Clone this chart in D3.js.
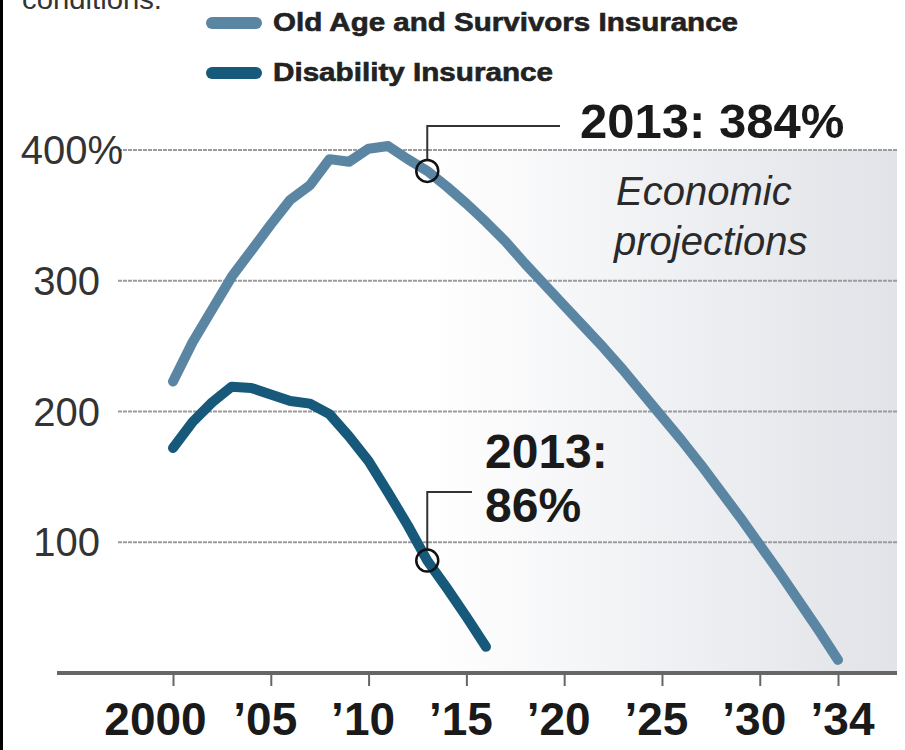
<!DOCTYPE html>
<html>
<head>
<meta charset="utf-8">
<script src="https://cdn.jsdelivr.net/npm/d3@7"></script>
<style>
  body { margin: 0; background: #fff; }
  svg { display: block; font-family: "Liberation Sans", Arial, sans-serif; }
</style>
</head>
<body>
<svg width="905" height="750"></svg>
<script>
// values (trust fund ratio, %)
const oasiYears = d3.range(2000, 2035);
const oasiValues = [223, 253, 278, 303, 323, 343, 362, 373, 393, 391, 401, 403, 393, 384,
  372, 359, 345, 330, 313, 297, 281, 265, 249, 232, 214, 196, 178, 159, 139, 119, 98, 77, 55, 33, 10];
const diYears = d3.range(2000, 2017);
const diValues = [172, 192, 207, 219, 218, 213, 208, 206, 198, 181, 162, 138, 113, 86, 65, 43, 20];
const xTicks = [2000, 2005, 2010, 2015, 2020, 2025, 2030, 2034];
const yTicks = [100, 200, 300, 400];
const seriesNames = ['Old Age and Survivors Insurance', 'Disability Insurance'];
const seriesColors = ['#5b86a3', '#16597b'];

const svg = d3.select('svg');
const x = d3.scaleLinear().domain([2000, 2034]).range([173, 838]);
const y = d3.scaleLinear().domain([0, 400]).range([673, 150]);
const right = 897;

// left frame edge
svg.append('rect').attr('x', 0).attr('y', 0).attr('width', 3).attr('height', 750).attr('fill', '#000');

// cut-off intro text (cropped at the top, as in the source)
svg.append('text')
  .attr('x', 22).attr('y', 9)
  .attr('font-size', 27).attr('fill', '#333')
  .attr('textLength', 140).attr('lengthAdjust', 'spacingAndGlyphs')
  .text('conditions.');

// projection shading
const grad = svg.append('defs').append('linearGradient')
  .attr('id', 'proj').attr('x1', 0).attr('x2', 1).attr('y1', 0).attr('y2', 0);
grad.append('stop').attr('offset', 0).attr('stop-color', '#ffffff');
grad.append('stop').attr('offset', 1).attr('stop-color', '#e1e3e8');
svg.append('rect')
  .attr('x', x(2013)).attr('y', y(400))
  .attr('width', right - x(2013)).attr('height', y(0) - y(400))
  .attr('fill', 'url(#proj)');

// gridlines
svg.append('g').selectAll('line').data(yTicks).join('line')
  .attr('x1', 118).attr('x2', right)
  .attr('y1', d => y(d)).attr('y2', d => y(d))
  .attr('stroke', '#9c9c9c').attr('stroke-width', 2)
  .attr('stroke-dasharray', '4,1');

// y labels
svg.append('g').selectAll('text').data(yTicks).join('text')
  .attr('x', d => d === 400 ? 123 : 100).attr('y', d => y(d) + 14)
  .attr('font-size', 40).attr('fill', '#333')
  .attr('text-anchor', 'end')
  .text(d => d === 400 ? d + '%' : d);

// x axis
svg.append('line')
  .attr('x1', 57).attr('x2', right)
  .attr('y1', y(0)).attr('y2', y(0))
  .attr('stroke', '#666').attr('stroke-width', 4);
const xAxis = svg.append('g')
  .attr('transform', `translate(0,${y(0)})`)
  .call(d3.axisBottom(x).tickValues(xTicks).tickSize(13).tickPadding(16)
    .tickFormat(d => d === 2000 ? '2000' : '\u2019' + String(d).slice(2)));
xAxis.select('.domain').remove();
xAxis.selectAll('.tick line').attr('stroke', '#666').attr('stroke-width', 2);
xAxis.selectAll('.tick text')
  .attr('font-family', '"Liberation Sans", Arial, sans-serif')
  .attr('font-size', 46).attr('font-weight', 'bold').attr('fill', '#1a1a1a')
  .attr('dy', '0.71em')
  .attr('dx', d => d === 2000 ? -18 : d === 2034 ? 4 : -6);

// series lines
const line = d3.line().x(d => x(d[0])).y(d => y(d[1]));
const series = [
  d3.zip(oasiYears, oasiValues),
  d3.zip(diYears, diValues)
];
svg.append('g').selectAll('path').data(series).join('path')
  .attr('d', line)
  .attr('fill', 'none')
  .attr('stroke', (d, i) => seriesColors[i])
  .attr('stroke-width', 10)
  .attr('stroke-linejoin', 'round')
  .attr('stroke-linecap', 'round');

// legend
const legendY = [23, 73];
const legendW = [465, 280];
const legend = svg.append('g').selectAll('g').data(seriesNames).join('g')
  .attr('transform', (d, i) => `translate(0,${legendY[i]})`);
legend.append('line')
  .attr('x1', 212).attr('x2', 256)
  .attr('stroke', (d, i) => seriesColors[i])
  .attr('stroke-width', 12).attr('stroke-linecap', 'round');
legend.append('text')
  .attr('x', 273).attr('y', 8)
  .attr('font-size', 25).attr('font-weight', 'bold').attr('fill', '#222')
  .attr('stroke', '#222').attr('stroke-width', 0.6)
  .attr('textLength', (d, i) => legendW[i]).attr('lengthAdjust', 'spacingAndGlyphs')
  .text(d => d);

// 2013 callouts
const callouts = [
  { year: 2013, value: oasiValues[13], top: 126, end: 560 },
  { year: 2013, value: diValues[13], top: 492, end: 472 }
];
const co = svg.append('g');
co.selectAll('path').data(callouts).join('path')
  .attr('d', d => `M${x(d.year)},${y(d.value) - 11}V${d.top}H${d.end}`)
  .attr('fill', 'none').attr('stroke', '#333').attr('stroke-width', 2);
co.selectAll('circle').data(callouts).join('circle')
  .attr('cx', d => x(d.year)).attr('cy', d => y(d.value)).attr('r', 11)
  .attr('fill', 'none').attr('stroke', '#111').attr('stroke-width', 2.5);

svg.append('text')
  .attr('x', 580).attr('y', 138)
  .attr('font-size', 49).attr('font-weight', 'bold').attr('fill', '#1a1a1a')
  .text(`2013: ${oasiValues[13]}%`);
const diLabel = svg.append('text')
  .attr('font-size', 48).attr('font-weight', 'bold').attr('fill', '#1a1a1a');
diLabel.append('tspan').attr('x', 485).attr('y', 468).text('2013:');
diLabel.append('tspan').attr('x', 485).attr('y', 522).text(`${diValues[13]}%`);

// projection label
const proj = svg.append('text')
  .attr('font-size', 40).attr('font-style', 'italic').attr('fill', '#2a2a2a');
proj.append('tspan').attr('x', 616).attr('y', 205).text('Economic');
proj.append('tspan').attr('x', 614).attr('y', 255).text('projections');
</script>
</body>
</html>
